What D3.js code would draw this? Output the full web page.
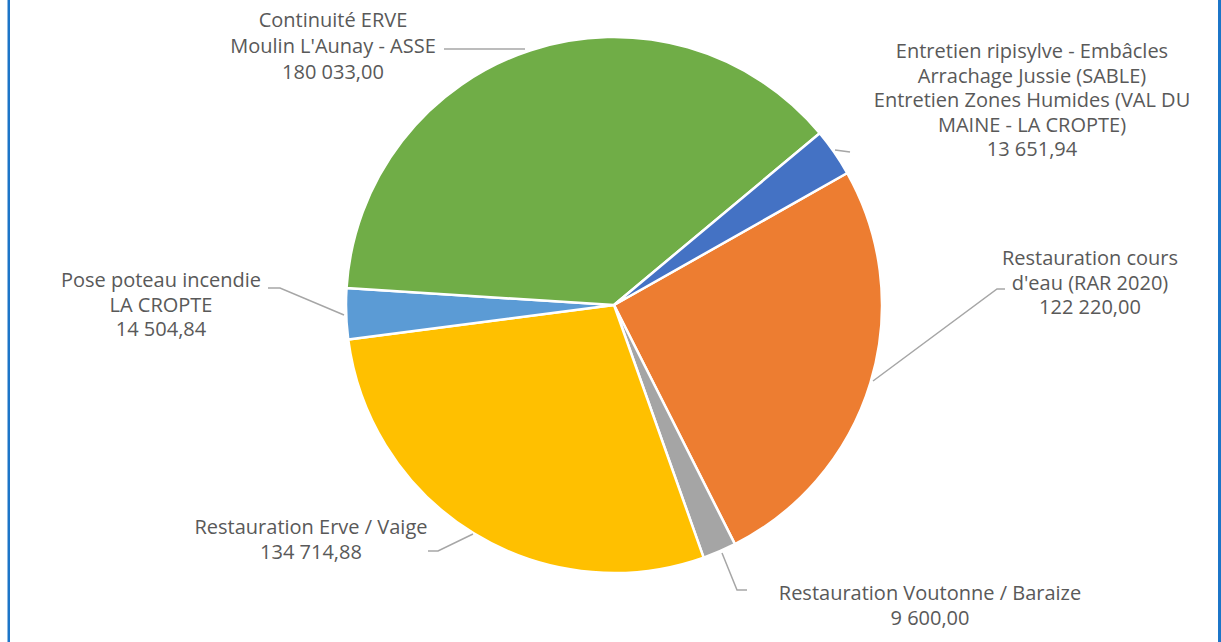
<!DOCTYPE html>
<html>
<head>
<meta charset="utf-8">
<script src="https://cdn.jsdelivr.net/npm/d3@7"></script>
<style>
  body { margin: 0; background: #fff; }
  svg { display: block; }
  .lbl { font-family: "Open Sans", sans-serif; font-size: 20px; fill: #595959; }
</style>
</head>
<body>
<div id="chart"></div>
<script>
// data, in the order the slices appear clockwise
var names = [
    ["Restauration cours", "d'eau (RAR 2020)"],
    ["Restauration Voutonne / Baraize"],
    ["Restauration Erve / Vaige"],
    ["Pose poteau incendie", "LA CROPTE"],
    ["Continuité ERVE", "Moulin L'Aunay - ASSE"],
    ["Entretien ripisylve - Embâcles", "Arrachage Jussie (SABLE)", "Entretien Zones Humides (VAL DU", "MAINE - LA CROPTE)"]
];
var values = [122220.00, 9600.00, 134714.88, 14504.84, 180033.00, 13651.94];
var valueLabels = ["122 220,00", "9 600,00", "134 714,88", "14 504,84", "180 033,00", "13 651,94"];
var colors = ["#ED7D31", "#A5A5A5", "#FFC000", "#5B9BD5", "#70AD47", "#4472C4"];

// label placement (center x, first line y, line height) and leader lines
var labelPos = [
    {x: 1090, y: 265, lh: 24.5},
    {x: 930, y: 600, lh: 24.5},
    {x: 311, y: 534, lh: 24.5},
    {x: 161, y: 287, lh: 24.5},
    {x: 333, y: 27, lh: 26},
    {x: 1032, y: 58, lh: 24.5}
];
var leaders = [
    [[873, 381], [997, 289], [1005, 289]],
    [[722, 553], [737, 590], [747, 590]],
    [[473, 534], [438, 551], [428, 551]],
    [[344, 315], [280, 288], [268, 288]],
    [[525, 49], [444, 49]],
    [[850, 152], [835, 150]]
];

var width = 1221, height = 642;
var cx = 614, cy = 305, radius = 268;

var svg = d3.select("#chart").append("svg")
    .attr("width", width)
    .attr("height", height);

// side frame lines
svg.append("rect").attr("x", 7.5).attr("y", 0).attr("width", 2.5).attr("height", height).attr("fill", "#1C75C8");
svg.append("rect").attr("x", 1218).attr("y", 0).attr("width", 3).attr("height", height).attr("fill", "#1C75C8");

var pie = d3.pie()
    .sort(null)
    .value(function (d) { return d; })
    .startAngle(60.5 * Math.PI / 180)
    .endAngle((60.5 + 360) * Math.PI / 180);

var arc = d3.arc().innerRadius(0).outerRadius(radius);

var g = svg.append("g").attr("transform", "translate(" + cx + "," + cy + ")");

g.selectAll("path")
    .data(pie(values))
    .enter().append("path")
    .attr("d", arc)
    .attr("fill", function (d, i) { return colors[i]; })
    .attr("stroke", "#fff")
    .attr("stroke-width", 2.5)
    .attr("stroke-linejoin", "round");

// leader lines
var line = d3.line();
svg.selectAll(".leader")
    .data(leaders)
    .enter().append("path")
    .attr("class", "leader")
    .attr("d", line)
    .attr("fill", "none")
    .attr("stroke", "#A6A6A6")
    .attr("stroke-width", 1.5);

// labels
names.forEach(function (n, i) {
    var lines = n.concat([valueLabels[i]]);
    var p = labelPos[i];
    var t = svg.append("text")
        .attr("class", "lbl")
        .attr("text-anchor", "middle");
    lines.forEach(function (s, j) {
        t.append("tspan")
            .attr("x", p.x)
            .attr("y", p.y + j * p.lh)
            .text(s);
    });
});
</script>
</body>
</html>
